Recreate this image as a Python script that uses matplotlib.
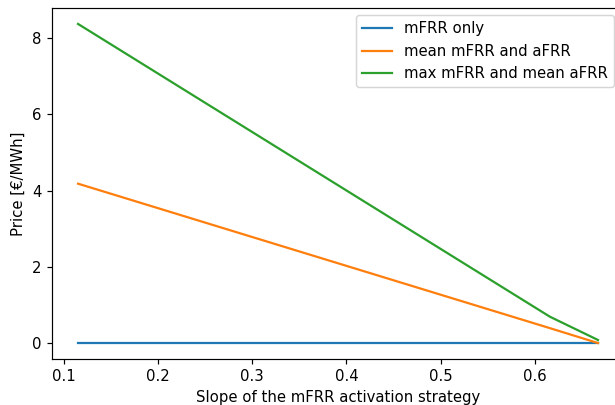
import matplotlib.pyplot as plt

# Slopes (x) and prices for each pricing scheme
slope = [0.115, 0.616, 0.667]
mfrr_only = [0.0, 0.0, 0.0]
mean_mfrr_afrr = [4.18, 0.39, 0.0]
max_mfrr_mean_afrr = [8.37, 0.69, 0.08]

dpi = 107
fig = plt.figure(figsize=(615 / dpi, 405 / dpi), dpi=dpi)
ax = fig.add_axes([0.0846, 0.1136, 0.93, 0.8667])

ax.plot(slope, mfrr_only, label="mFRR only")
ax.plot(slope, mean_mfrr_afrr, label="mean mFRR and aFRR")
ax.plot(slope, max_mfrr_mean_afrr, label="max mFRR and mean aFRR")

ax.set_xlabel("Slope of the mFRR activation strategy")
ax.set_ylabel("Price [€/MWh]")
ax.legend(loc="upper right", bbox_to_anchor=(0.995, 1.0))

fig.savefig("out.png", dpi=dpi)
